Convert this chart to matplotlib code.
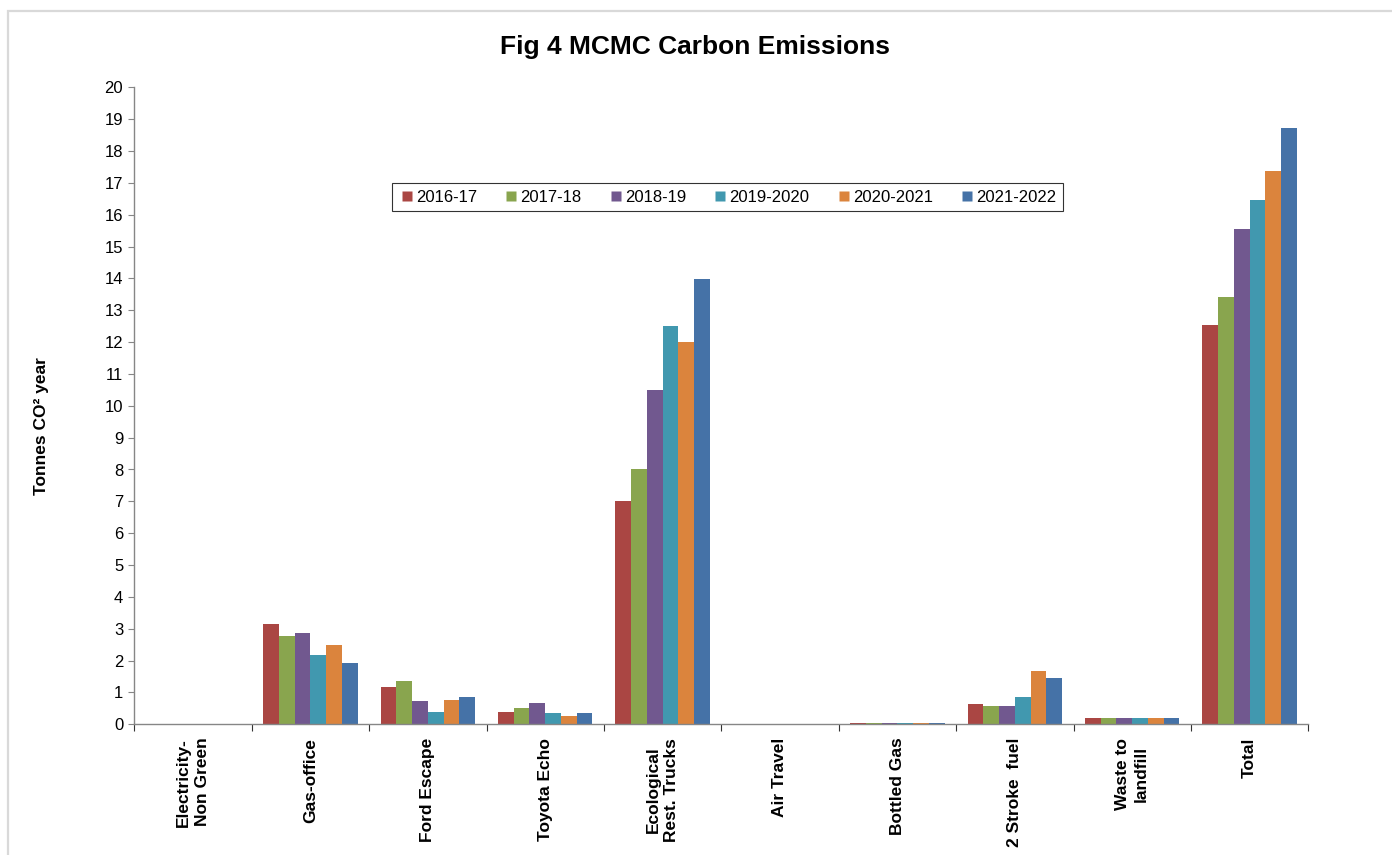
import matplotlib
matplotlib.use("Agg")
import matplotlib.pyplot as plt
from matplotlib.patches import Rectangle
from matplotlib.lines import Line2D
import numpy as np

plt.rcParams['font.family'] = ['Liberation Sans', 'DejaVu Sans']

categories = ["Electricity-\nNon Green", "Gas-office", "Ford Escape", "Toyota Echo",
              "Ecological\nRest. Trucks", "Air Travel", "Bottled Gas", "2 Stroke  fuel",
              "Waste to\nlandfill", "Total"]
series_names = ["2016-17", "2017-18", "2018-19", "2019-2020", "2020-2021", "2021-2022"]

y2016_17 = [0.0, 3.16, 1.16, 0.39, 7.02, 0.0, 0.03, 0.64, 0.21, 12.54]
y2017_18 = [0.0, 2.77, 1.36, 0.52, 8.00, 0.0, 0.03, 0.57, 0.21, 13.41]
y2018_19 = [0.0, 2.86, 0.72, 0.67, 10.50, 0.0, 0.03, 0.57, 0.21, 15.54]
y2019_20 = [0.0, 2.19, 0.39, 0.35, 12.52, 0.0, 0.03, 0.85, 0.21, 16.46]
y2020_21 = [0.0, 2.48, 0.76, 0.26, 12.00, 0.0, 0.03, 1.68, 0.21, 17.36]
y2021_22 = [0.0, 1.94, 0.85, 0.35, 13.97, 0.0, 0.03, 1.44, 0.21, 18.71]
series_values = [y2016_17, y2017_18, y2018_19, y2019_20, y2020_21, y2021_22]

colors = ["#AA4643", "#89A54E", "#71588F", "#4198AF", "#DB843D", "#4572A7"]

fig = plt.figure(figsize=(13.92, 8.55), dpi=100)

# light outer chart frame
fig.patches.append(Rectangle((8 / 1392, -0.1), 1.2, 1 - 11 / 855 + 0.1,
                             transform=fig.transFigure, fill=False,
                             edgecolor="#D9D9D9", linewidth=1.6))

ax = fig.add_axes([134.3 / 1392, 1 - 724.3 / 855, (1308.3 - 134.3) / 1392,
                   (724.3 - 87.3) / 855])

n = len(series_names)
x = np.arange(len(categories))
group = 0.804
bw = group / n
for i, (name, vals, c) in enumerate(zip(series_names, series_values, colors)):
    offs = -group / 2 + bw * (i + 0.5)
    ax.bar(x + offs, vals, width=bw, color=c, edgecolor="none", label=name)

ax.set_xlim(-0.5, len(categories) - 0.5)
ax.set_ylim(0, 20)
ax.set_yticks(range(0, 21))
ax.tick_params(axis="y", direction="out", length=4, width=0.8, color="#868686",
               labelsize=12, pad=4)

# category boundaries carry the tick marks
ax.set_xticks(np.arange(-0.5, len(categories), 1.0))
ax.set_xticklabels([])
ax.tick_params(axis="x", direction="out", length=5, width=0.8, color="#333333")
for xi, lab in zip(x, categories):
    ax.text(xi, -0.42, lab, rotation=90, ha="center", va="top",
            multialignment="center", fontsize=12.5, fontweight="bold",
            transform=ax.transData, clip_on=False, linespacing=1.3)

for s in ["top", "right"]:
    ax.spines[s].set_visible(False)
for s in ["left", "bottom"]:
    ax.spines[s].set_color("#868686")
    ax.spines[s].set_linewidth(1.0)

fig.text(695 / 1392, 1 - 47 / 855, "Fig 4 MCMC Carbon Emissions", ha="center",
         va="center", fontsize=19, fontweight="bold")
fig.text(42 / 1392, 1 - 426 / 855, "Tonnes CO² year", rotation=90, ha="center",
         va="center", fontsize=12.5, fontweight="bold")

handles = [Line2D([], [], marker="s", linestyle="none", markersize=7,
                  markerfacecolor=c, markeredgecolor="none") for c in colors]
leg = fig.legend(handles, series_names, loc="center",
                 bbox_to_anchor=(727.5 / 1392, 1 - 197 / 855), ncol=6,
                 frameon=True, fancybox=False, fontsize=12, handletextpad=0.05,
                 columnspacing=1.55, handlelength=1.0, borderpad=0.4)
leg.get_frame().set_edgecolor("black")
leg.get_frame().set_linewidth(0.8)

fig.savefig("out.png", dpi=100)
